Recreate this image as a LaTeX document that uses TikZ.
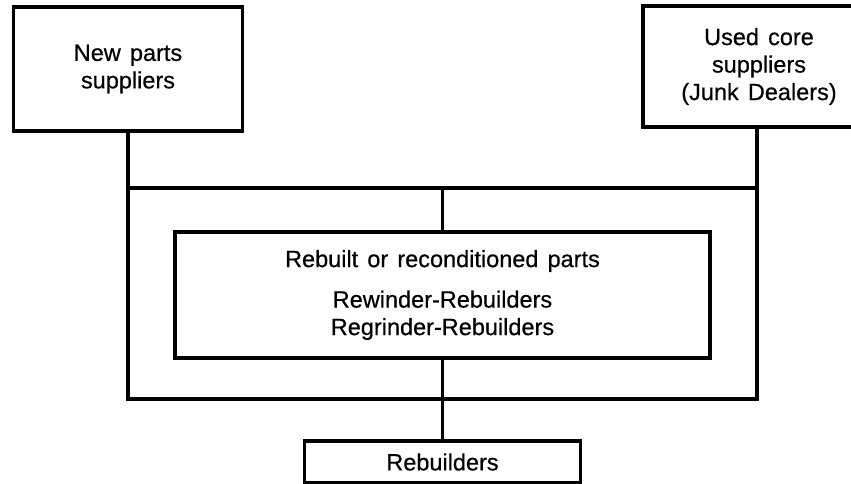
\documentclass[tikz,border=0pt]{standalone}
\usepackage{fontspec}
\setmainfont{Liberation Sans}[WordSpace=1.4, FakeBold=0.5]
\begin{document}
\begin{tikzpicture}[x=1pt,y=-1pt,
  every node/.style={outer sep=0pt, inner sep=0pt},
  boxst/.style={draw=black, line width=3.6pt, fill=white, align=center,
    font=\fontsize{23.5}{27.5}\selectfont},
  conn/.style={draw=black, line width=3.6pt}]
\clip (0,0) rectangle (851,484);
\fill[white] (0,0) rectangle (851,484);
% frame
\node[draw=black, line width=3.6pt, minimum width=629pt, minimum height=211pt] (frame) at (442.5,293.5) {};
% boxes
\node[boxst, minimum width=229pt, minimum height=124pt] (lb) at (128,69) {New parts\\suppliers};
\node[boxst, minimum width=232pt, minimum height=121pt] (rb) at (759,66.5) {Used core\\suppliers\\(Junk Dealers)};
\node[boxst, minimum width=535pt, minimum height=126pt] (inner) at (442.5,295) {Rebuilt or reconditioned parts\\[13pt]Rewinder-Rebuilders\\Regrinder-Rebuilders};
\node[boxst, minimum width=276pt, minimum height=42pt] (reb) at (442.5,462) {Rebuilders};
% connectors
\draw[conn] (lb.south) -- (frame.north west);
\draw[conn] (frame.north east |- rb.south) -- (frame.north east);
\draw[conn] (frame.north) -- (inner.north);
\draw[conn] (inner.south) -- (frame.south);
\draw[conn] (frame.south) -- (reb.north);
\end{tikzpicture}
\end{document}
